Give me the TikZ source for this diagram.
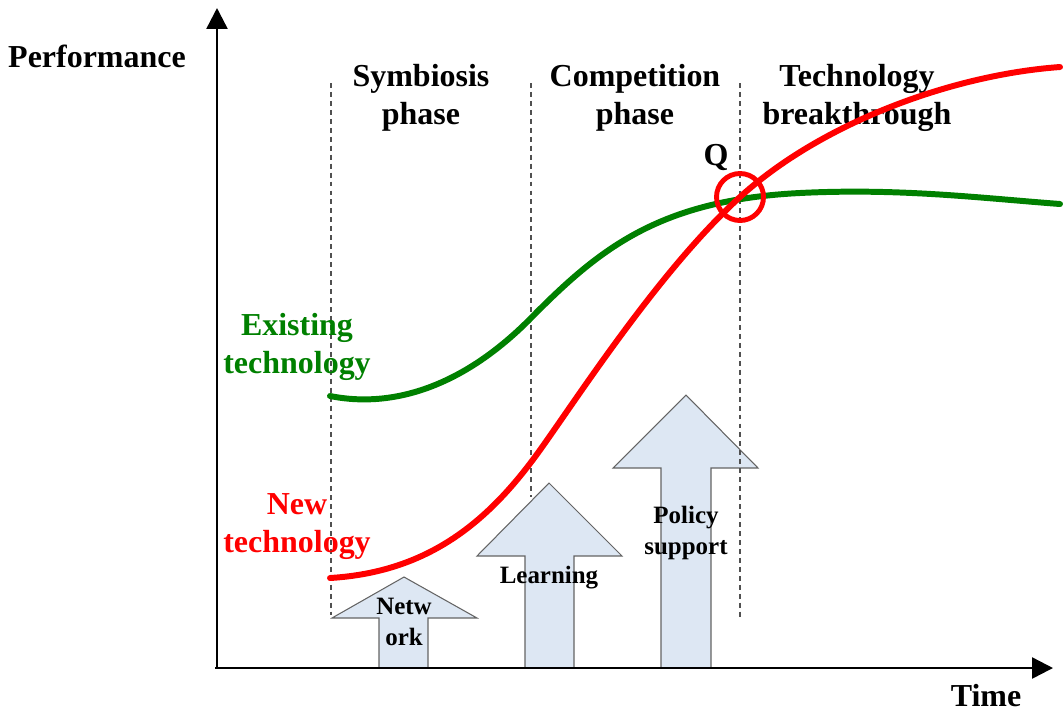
\documentclass[tikz,border=0pt]{standalone}
\usepackage{fontspec}
\setmainfont{Liberation Serif}
\usetikzlibrary{arrows.meta}
\definecolor{curvegreen}{RGB}{0,128,0}
\definecolor{curvered}{RGB}{255,0,0}
\definecolor{arrowfill}{RGB}{221,231,243}
\definecolor{arrowline}{RGB}{100,100,100}
\definecolor{dashgray}{RGB}{80,80,80}
\begin{document}
\begin{tikzpicture}[x=0.02cm,y=-0.02cm,
  big/.style={font=\fontsize{18.2}{21.6}\selectfont\bfseries, align=center, inner sep=0pt},
  small/.style={font=\fontsize{14.2}{17.6}\selectfont\bfseries, align=center, inner sep=0pt},
  blockarrow/.style={fill=arrowfill, draw=arrowline, line width=0.6pt, line join=miter},
  phaseline/.style={draw=dashgray, line width=0.6pt, dash pattern=on 2.8pt off 2.3pt},
  curve/.style={line width=3.4pt, line cap=round},
  axis/.style={line width=1.4pt, -{Triangle[length=0.42cm,width=0.42cm]}}]
\useasboundingbox (0,0) rectangle (1064,714);

% block arrows
\draw[blockarrow] (379,668) -- (379,618) -- (332,618) -- (404,577) -- (477,618) -- (428,618) -- (428,668) -- cycle;
\draw[blockarrow] (525,668) -- (525,556) -- (477,556) -- (549,483) -- (622,556) -- (574,556) -- (574,668) -- cycle;
\draw[blockarrow] (661,668) -- (661,468) -- (613,468) -- (686,395) -- (758,468) -- (711,468) -- (711,668) -- cycle;

% phase separators
\coordinate (d1t) at (331,83); \coordinate (d1b) at (331,615);
\coordinate (d2t) at (531,83); \coordinate (d2b) at (531,497);
\coordinate (d3t) at (740,83); \coordinate (d3b) at (740,617);
\draw[phaseline] (d1t) -- (d1b);
\draw[phaseline] (d2t) -- (d2b);
\draw[phaseline] (d3t) -- (d3b);

% axes
\coordinate (origin) at (217,668);
\coordinate (ytip) at (217,8);
\coordinate (xstart) at (215,668);
\coordinate (xtip) at (1053,668);
\draw[axis] (origin) -- (ytip);
\draw[axis] (xstart) -- (xtip);

% texts
\node[big, anchor=base] (perf) at (97,67) {Performance};
\node[big, anchor=base] (time) at (986,706) {Time};
\node[big] (sym) at (421,98) {Symbiosis\\phase};
\node[big] (comp) at (635,98) {Competition\\phase};
\node[big] (tech) at (857,98) {Technology\\breakthrough};
\node[big, text=curvegreen] (exist) at (297,347) {Existing\\technology};
\node[big, text=curvered] (newt) at (297,527) {New\\technology};
\node[big, anchor=base] (q) at (716,165) {Q};

\node[small] (net) at (404,622) {Netw\\ork};
\node[small, anchor=base] (learn) at (549,583) {Learning};
\node[small] (policy) at (686,533) {Policy\\support};

% curves
\draw[curve, curvegreen] (330,396) .. controls (400,410) and (470,380) .. (531,318)
  .. controls (600,248) and (660,200) .. (800,193)
  .. controls (900,188) and (980,198) .. (1060,204);
\draw[curve, curvered] (330,578) .. controls (430,572) and (490,520) .. (540,450)
  .. controls (580,394) and (660,270) .. (740,197)
  .. controls (820,124) and (950,75) .. (1060,67);

% crossing point
\node[draw=curvered, line width=2.8pt, circle, minimum size=47*0.02cm, inner sep=0pt] (qcirc) at (740,197) {};
\end{tikzpicture}
\end{document}
